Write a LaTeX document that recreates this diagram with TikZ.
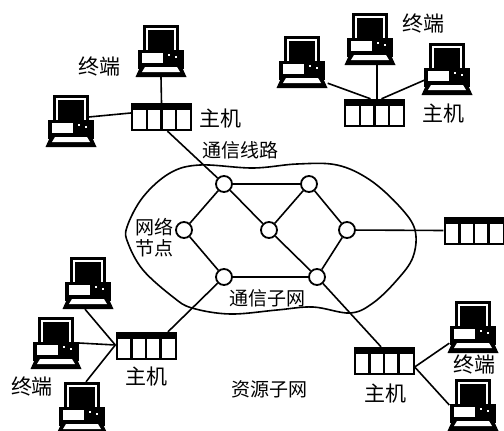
\documentclass[tikz,border=0pt]{standalone}
\usepackage{fontspec}
\newfontfamily\cjk{Noto Sans CJK SC}
\tikzset{
  netnode/.style={draw,circle,line width=1.8pt,fill=white,inner sep=0pt,minimum size=16pt},
  link/.style={line width=1.6pt},
  txt/.style={font=\cjk\fontsize{19}{19}\selectfont,inner sep=0pt},
  txtbig/.style={font=\cjk\fontsize{21}{21}\selectfont,inner sep=0pt},
  pics/computer/.style={code={
    \node[inner sep=0pt,minimum width=51pt,minimum height=52pt] (-box) at (0,0) {};
    % Monitor
    \fill (-18,-26) rectangle (18,2);
    \fill[white] (-15,-23) rectangle (15,0);
    \fill (-13,-21) rectangle (13,-1);
    % Case
    \fill (-23,-1) rectangle (23,18);
    \fill[white] (-19,2) rectangle (2,12);
    \fill[white] (7,3) rectangle (9,5);
    \fill[white] (14,5) rectangle (16,7);
    % Keyboard
    \fill (-25.5,26) -- (-20,14) -- (20,14) -- (25.5,26) -- cycle;
    \fill[white] (-16,16) -- (16,16) -- (19,21) -- (-19,21) -- cycle;
  }},
  pics/hostbox/.style={code={
    \node[inner sep=0pt,minimum width=61pt,minimum height=28pt] (-box) at (0,0) {};
    \fill (-30.5,-14) rectangle (30.5,14);
    % Cells
    \fill[white] (-28.5,-7) rectangle (-16,12);
    \fill[white] (-13.5,-7) rectangle (-1.5,12);
    \fill[white] (1,-7) rectangle (13,12);
    \fill[white] (15.5,-7) rectangle (28.5,12);
  }}
}
\begin{document}
\begin{tikzpicture}[x=1pt,y=-1pt]
    \useasboundingbox (0,0) rectangle (504,431);
    \clip (0,0) rectangle (504,431);

    % Subnet outline
    \draw[line width=1.6pt] plot[smooth cycle,tension=0.6] coordinates {
      (200,165) (253,168) (297,164) (337,165) (370,180) (400,207) (415,230)
      (413,257) (397,280) (373,303) (350,313) (313,307) (277,310) (230,314)
      (192,308) (173,297) (143,270) (128,243) (127,227) (143,197) (170,173)};

    % Network nodes
    \node[netnode] (nA) at (224,184) {};
    \node[netnode] (nB) at (309,184) {};
    \node[netnode] (nC) at (269,230) {};
    \node[netnode] (nD) at (347,230) {};
    \node[netnode] (nE) at (184,230) {};
    \node[netnode] (nF) at (224,277) {};
    \node[netnode] (nG) at (317,277) {};

    % Hosts
    \pic (hostA) at (161.5,117) {hostbox};
    \pic (hostB) at (374.5,113) {hostbox};
    \pic (hostC) at (474,230.5) {hostbox};
    \pic (hostD) at (146,346) {hostbox};
    \pic (hostE) at (384,361) {hostbox};

    % Terminals
    \pic (pcA) at (161,51) {computer};
    \pic (pcB) at (71,121) {computer};
    \pic (pcC) at (302,62) {computer};
    \pic (pcD) at (370,39) {computer};
    \pic (pcE) at (447,69) {computer};
    \pic (pcF) at (88,283) {computer};
    \pic (pcG) at (56,343) {computer};
    \pic (pcH) at (82,408) {computer};
    \pic (pcI) at (473,327) {computer};
    \pic (pcJ) at (473,405) {computer};

    % Subnet links
    \draw[link] (nA) -- (nB);
    \draw[link] (nA) -- (nE);
    \draw[link] (nA) -- (nC);
    \draw[link] (nB) -- (nC);
    \draw[link] (nB) -- (nD);
    \draw[link] (nC) -- (nG);
    \draw[link] (nD) -- (nG);
    \draw[link] (nE) -- (nF);
    \draw[link] (nF) -- (nG);

    % Links to hosts
    \draw[link] ([xshift=6pt]hostA-box.south) -- (nA);
    \draw[link] (nD) -- (hostC-box.west);
    \draw[link] ([xshift=22pt]hostD-box.north) -- (nF);
    \draw[link] ([xshift=-3pt]hostE-box.north) -- (nG);

    % Links to terminals
    \draw[link] (pcA-box.south) -- (hostA-box.north);
    \draw[link] ([xshift=-8pt,yshift=4pt]pcB-box.east) -- ([yshift=4pt]hostA-box.west);
    \draw[link] ([yshift=5pt]pcC-box.south east) -- ([xshift=-4pt]hostB-box.north);
    \draw[link] ([xshift=7pt]pcD-box.south) -- ([xshift=2.5pt]hostB-box.north);
    \draw[link] ([xshift=3pt,yshift=15pt]pcE-box.south west) -- ([xshift=7pt]hostB-box.north);
    \draw[link] ([xshift=-3pt]pcF-box.south) -- ([yshift=1pt]hostD-box.west);
    \draw[link] ([xshift=-3pt]pcG-box.east) -- ([yshift=1pt]hostD-box.west);
    \draw[link] ([xshift=4pt]pcH-box.north) -- ([yshift=1pt]hostD-box.west);
    \draw[link] ([xshift=2pt,yshift=10pt]pcI-box.south west) -- ([yshift=-6pt]hostE-box.east);
    \draw[link] ([xshift=2pt]pcJ-box.west) -- ([yshift=-6pt]hostE-box.east);

    % Labels
    \node[txtbig] (lbA) at (99,67) {终端};
    \node[txtbig] (lbB) at (220,119) {主机};
    \node[txtbig] (lbC) at (423,24) {终端};
    \node[txtbig] (lbD) at (443,114) {主机};
    \node[txt] (lbE) at (240,150) {通信线路};
    \node[txt] (lbF) at (154,227) {网络};
    \node[txt] (lbG) at (154,248) {节点};
    \node[txt] (lbH) at (267,298) {通信子网};
    \node[txtbig] (lbI) at (32,387) {终端};
    \node[txtbig] (lbJ) at (146,377) {主机};
    \node[txt] (lbK) at (269,389) {资源子网};
    \node[txtbig] (lbL) at (385,394) {主机};
    \node[txtbig] (lbM) at (474,365) {终端};
\end{tikzpicture}
\end{document}
